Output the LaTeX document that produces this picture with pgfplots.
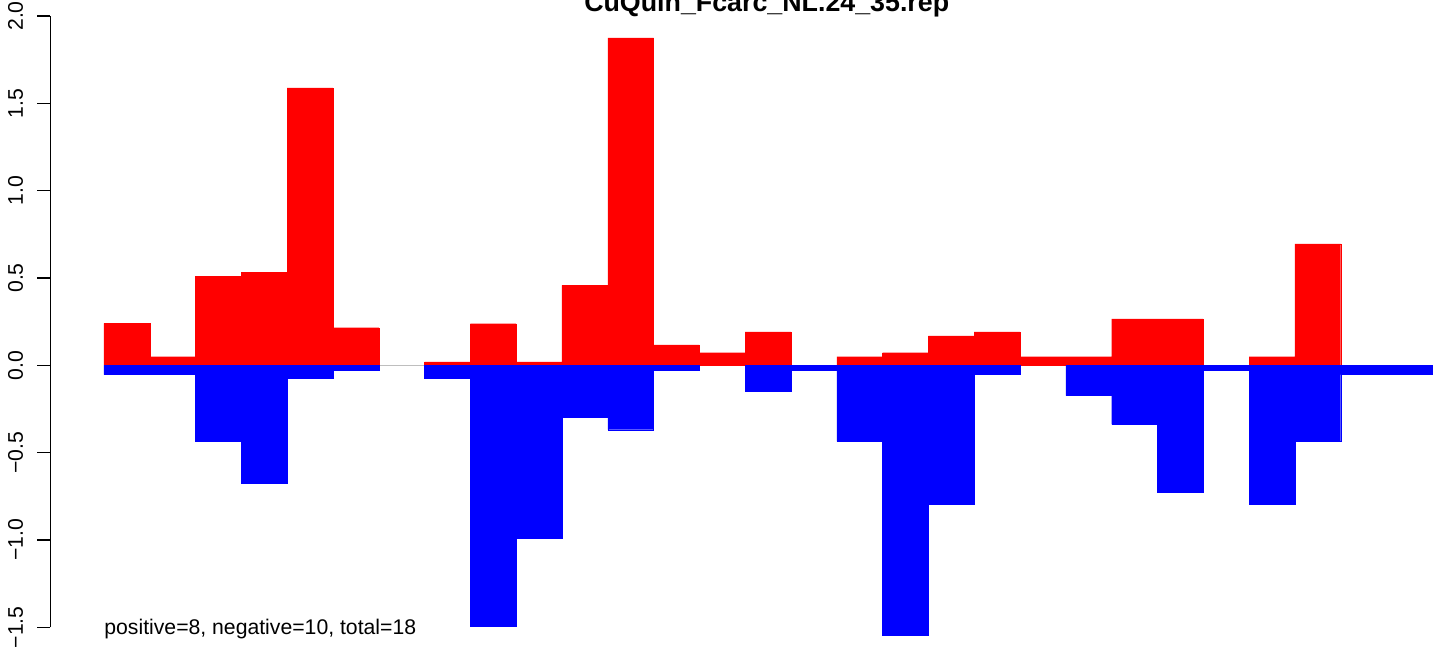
\documentclass[border=0pt]{standalone}
\usepackage{pgfplots}
\pgfplotsset{compat=1.18}
\usepackage{pgfplotstable}
\usepackage{fontspec}
\setmainfont{Liberation Sans}
\definecolor{rred}{RGB}{255,0,0}
\definecolor{rblue}{RGB}{0,0,255}
\definecolor{rgray}{RGB}{190,190,190}
\pgfplotstableread{
x pos neg
0.5 0.24 -0.053
1.5 0.049 -0.053
2.5 0.508 -0.436
3.5 0.531 -0.677
4.5 1.588 -0.075
5.5 0.215 -0.030
6.5 nan nan
7.5 0.020 -0.075
8.5 0.238 -1.495
9.5 0.020 -0.990
10.5 0.457 -0.295
11.5 1.875 -0.369
12.5 0.117 -0.030
13.5 0.072 nan
14.5 0.192 -0.150
15.5 nan -0.030
16.5 0.049 -0.436
17.5 0.072 -1.547
18.5 0.169 -0.797
19.5 0.192 -0.053
20.5 0.049 nan
21.5 0.049 -0.173
22.5 0.266 -0.339
23.5 0.266 -0.728
24.5 nan -0.030
25.5 0.049 -0.797
26.5 0.695 -0.436
27.5 nan -0.053
28.5 nan -0.053
}\datatab
\begin{document}
\begin{tikzpicture}[x=1pt,y=1pt]
\begin{axis}[
  scale only axis,
  width=696.75pt, height=323.5pt,
  xmin=-1.168, xmax=29.258,
  ymin=-1.613, ymax=2.0916,
  clip=false,
  unbounded coords=discard,
  axis x line=none,
  axis y line*=left,
  y axis line style={draw=none},
  ytick={-1.5,-1,-0.5,0,0.5,1,1.5,2},
  yticklabels={−1.5,−1.0,−0.5,0.0,0.5,1.0,1.5,2.0},
  tick align=outside,
  major tick length=6.5pt,
  tick style={black, line width=0.6pt},
  yticklabel style={font=\fontsize{10.6}{12}\selectfont, rotate=90, anchor=south, inner sep=0pt, yshift=7pt},
  ybar, bar width=1, bar shift=0pt,
]
\addplot[rgray, line width=0.6pt, sharp plot, forget plot] coordinates {(0,0) (29,0)};
\addplot[fill=rred, draw=rred, line width=0.1pt] table[x=x,y=pos] {\datatab};
\addplot[fill=rblue, draw=rblue, line width=0.1pt] table[x=x,y=neg] {\datatab};
\draw[black, line width=0.6pt] (axis cs:-1.168,-1.5) -- (axis cs:-1.168,2.0);
\node[anchor=base, inner sep=0pt, font=\fontsize{13.4}{15}\selectfont\bfseries] at (axis cs:14.47,2.025) {CuQuin\_Fcarc\_NL.24\_35.rep};
\node[anchor=base west, inner sep=0pt, font=\fontsize{10.6}{12}\selectfont] at (axis cs:0,-1.539) {positive=8, negative=10, total=18};
\end{axis}
\pgfresetboundingbox
\path ([xshift=-25.25pt]current axis.south west) rectangle (current axis.north east);
\end{tikzpicture}
\end{document}
